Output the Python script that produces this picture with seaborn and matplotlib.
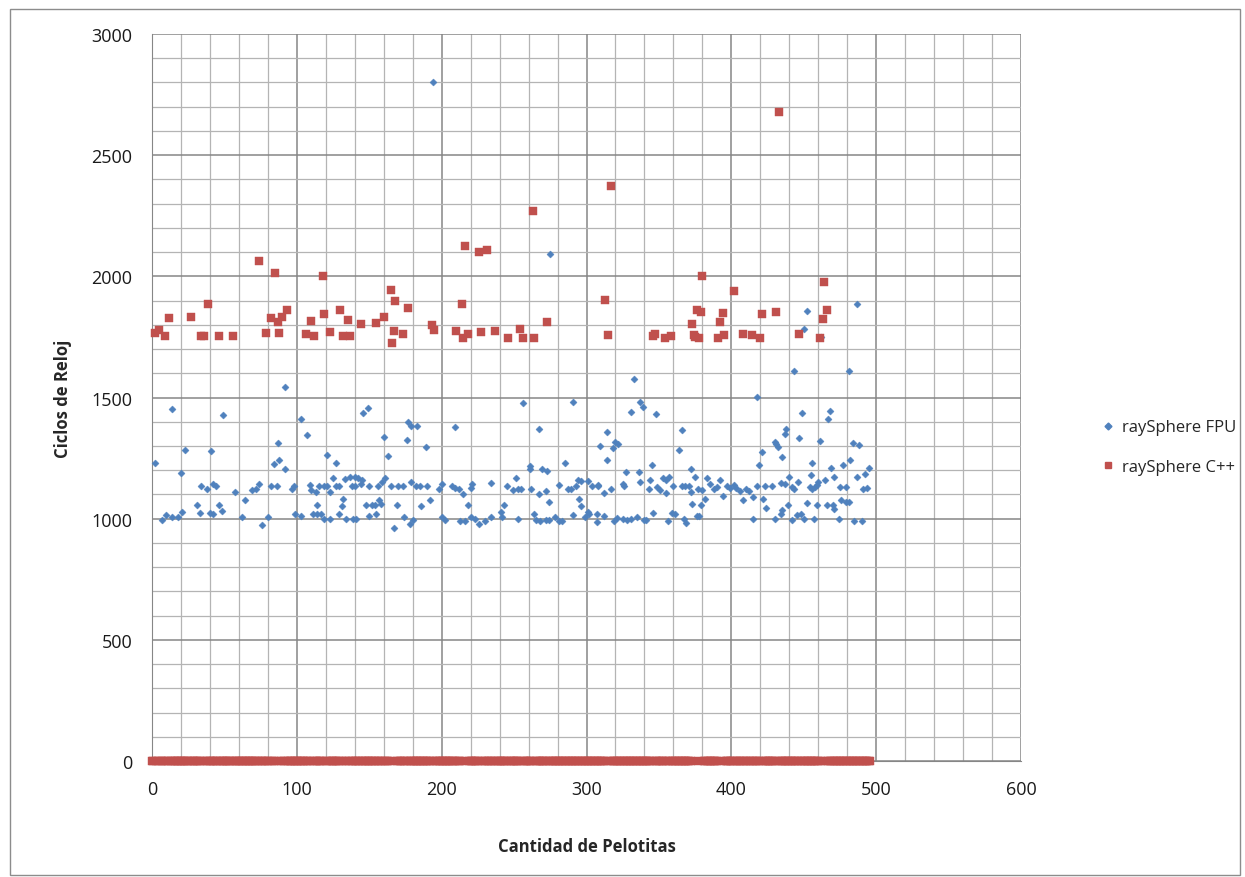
import numpy as np
import pandas as pd
import matplotlib
matplotlib.use("Agg")
import matplotlib.pyplot as plt
from matplotlib.lines import Line2D
from matplotlib.patches import Rectangle
import seaborn as sns

sns.set_style("white")
plt.rcParams['font.family'] = ['Open Sans', 'DejaVu Sans']

# ---------------- data ----------------
fpu_x = [2, 7, 10, 14, 14, 18, 20, 21, 23, 31, 33, 34, 38, 40, 41, 42, 42, 44, 46, 48, 49, 57, 62, 64, 69, 72, 74, 76,
         80, 82, 84, 86, 87, 88, 92, 92, 97, 98, 99, 103, 103, 107, 109, 110, 111, 113, 114, 114, 115, 117, 119, 119,
         121, 121,
         123, 123, 125, 127, 127, 129, 129, 131, 132, 133, 134, 137, 138, 139, 140, 140, 141, 142, 144, 145, 146, 148,
         149, 150, 150, 152, 154, 155, 156, 157, 158, 159, 160, 161, 163, 165, 167, 169, 170, 173, 174, 176, 177, 178,
         179, 179, 180, 182, 183, 185, 186, 189, 190, 192, 194, 198, 200, 200, 202, 207, 209, 209, 212, 213, 215, 216,
         218, 220, 220, 221, 223, 226, 230, 234, 234, 241, 242, 243, 245,
         249, 251, 253, 253, 255, 256, 261, 261, 262, 264, 265, 267, 267, 268, 269, 272, 272, 273, 274, 274, 275, 278,
         281, 281, 283, 285, 287, 289, 291, 291, 293, 294, 295, 296, 296, 299, 301, 301, 302, 304, 307, 307, 308, 308,
         309, 312, 312, 314, 314, 317, 318, 319, 320, 321, 322, 325, 325, 326, 327, 328, 331, 331, 333, 335, 336, 337,
         337, 339, 340, 341, 343, 344, 345, 346, 348, 349, 351, 353, 355, 355, 356, 357, 359, 360, 361, 364, 366, 366,
         367, 368, 369, 371, 372, 372, 373, 376,
         375, 377, 378, 379, 380, 382, 383, 385, 388, 390, 392, 394, 397, 399, 402, 403, 406, 408, 410, 412, 415, 415,
         418, 418, 419, 421, 422, 423, 424, 428, 430, 430, 431, 432, 434, 434, 435, 435, 437, 437, 438, 439, 440, 442,
         442, 443, 443, 445, 446, 447, 448, 449, 450, 450, 452, 452, 454, 455, 456, 456, 457, 458, 459, 459, 460, 461,
         462, 465, 466, 467, 468, 469, 470, 471, 471, 474, 475, 476, 477, 479, 479, 481, 481, 482, 484, 485, 487, 487,
         488, 490, 491, 492, 494, 495]
fpu_y = [1228, 996, 1014, 1454, 1007, 1007, 1189, 1028, 1283, 1058, 1023, 1135, 1123, 1023, 1279, 1018, 1142, 1134,
         1058, 1032, 1428, 1110, 1007, 1076, 1120, 1124, 1141, 972, 1007, 1135, 1225, 1135, 1313, 1244, 1203, 1545,
         1124, 1134, 1018, 1011, 1411, 1345, 1138, 1117, 1021, 1110, 1021, 1058, 1134, 1018, 1134, 1000, 1134, 1262,
         1110, 1000, 1168, 1228, 1134, 1134, 1018, 1051, 1083, 1163, 1000, 1170, 1134, 1000, 1172, 1134, 1000, 1166,
         1145, 1159, 1434, 1058, 1458, 1010, 1134, 1058, 1058, 1018, 1134, 1076, 1062, 1152, 1338, 1166, 1259, 1134,
         961, 1058, 1134, 1134, 1007, 1324, 1397, 979, 1152, 1382, 996, 1134, 1382, 1134, 1051, 1297, 1134, 1079, 2800,
         1124, 1141, 1007, 993, 1134, 1128, 1377, 1121, 990, 1100, 990, 1058, 1128, 1007, 1141, 1000, 977, 990, 1148,
         1007, 1028, 1007, 1058, 1134,
         1120, 1168, 1124, 1000, 1124, 1476, 1217, 1204, 1124, 1018, 993, 1370, 1103, 990, 1204, 1114, 993, 1196, 993,
         1069, 2092, 1007, 1138, 990, 990, 1230, 1124, 1124, 1014, 1481, 1134, 1159, 1080, 1154, 1051, 1007, 1154,
         1028, 1018, 1134, 986, 1021, 1138, 1134, 1301, 1106, 1011, 1244, 1359, 1124, 1292, 990, 1317, 1003, 1310,
         1145, 997, 1134, 1193, 995, 1439, 1000, 1575, 1007, 1193, 1481, 1152, 1462, 993, 996, 1124, 1159, 1221,
         1023, 1430, 1131, 1120, 1166, 1159, 1106, 990, 1172, 1023, 1134, 1021, 1283, 1366, 1134, 1000, 1134, 982,
         1134, 1203, 1110, 1059, 1011,
         1170, 1124, 1011, 1058, 1120, 1083, 1166, 1145, 1124, 1131, 1159, 1092, 1134, 1128, 1138, 1128, 1114, 1076,
         1124, 1114, 1090, 1000, 1134, 1503, 1221, 1276, 1083, 1134, 1045, 1134, 1317, 1000, 1308, 1297, 1148, 1021,
         1254, 1037, 1145, 1349, 1368, 1058, 1172, 1131, 996, 1124, 1609, 1014, 1152, 1331, 1021, 1437, 1781, 1000,
         1857, 1065, 1131, 1179, 1228, 1124, 1000, 1131, 1058, 1139, 1152, 1320, 1750, 1159, 1058, 1410, 1446, 1211,
         1058, 1170, 1040, 1000, 1131, 1079, 1221, 1131, 1069, 1069, 1609, 1241, 1313, 990, 1172, 1885, 1303, 990,
         1124, 1183, 1128, 1210]

cpp_x = [2, 5, 9, 12, 27, 34, 36, 39, 46, 56, 74, 79, 82, 85, 87, 88, 90, 93, 106, 110, 112, 118, 119, 123, 130, 132,
         135, 137, 144, 155, 160, 165, 166, 167, 168, 173, 177, 193, 195, 210, 214, 215, 216, 218, 226, 227, 231, 237,
         246, 254, 256, 263, 264, 273, 313, 315, 317, 346, 347, 354, 358, 373, 374, 375, 376, 378, 379, 380, 391, 392,
         394, 395, 402, 408, 414, 420, 421, 431, 433, 447, 461, 463, 464, 466]
cpp_y = [1765, 1778, 1755, 1826, 1833, 1755, 1755, 1887, 1755, 1755, 2065, 1765, 1826, 2012, 1812, 1765, 1833, 1862,
         1762, 1817, 1755, 2000, 1843, 1771, 1861, 1755, 1818, 1755, 1803, 1807, 1833, 1943, 1724, 1775, 1897, 1764,
         1868, 1798, 1779, 1775, 1887, 1745, 2127, 1761, 2099, 1771, 2110, 1775, 1745, 1782, 1745, 2270, 1745, 1810,
         1903, 1759, 2374, 1755, 1763, 1745, 1752, 1803, 1759, 1748, 1862, 1745, 1851, 2000, 1745, 1812, 1847, 1759,
         1941, 1763, 1759, 1745, 1846, 1854, 2680, 1760, 1745, 1823, 1975, 1862]
# C++ is 0 cycles for every other ball count in this range
cpp_zero_range = (0, 496)

series_names = ["raySphere FPU", "raySphere C++"]
x_ticks = [0, 100, 200, 300, 400, 500, 600]
y_ticks = [0, 500, 1000, 1500, 2000, 2500, 3000]
x_label = "Cantidad de Pelotitas"
y_label = "Ciclos de Reloj"

# ---------------- build tables ----------------
zero_x = [v for v in range(cpp_zero_range[0], cpp_zero_range[1] + 1) if v not in set(cpp_x)]
df_fpu = pd.DataFrame({"x": fpu_x, "y": fpu_y})
df_cpp = pd.DataFrame({"x": list(cpp_x) + zero_x, "y": list(cpp_y) + [0] * len(zero_x)})

blue = "#4F81BD"
red = "#C0504D"

fig = plt.figure(figsize=(12.45, 8.78), dpi=100)
fig.patches.append(Rectangle((10 / 1245, 2 / 878), 1230 / 1245, 866 / 878, transform=fig.transFigure,
                             fill=False, edgecolor="#8C8C8C", linewidth=1.0))
ax = fig.add_axes([152 / 1245, 1 - 762 / 878, 869 / 1245, 727 / 878])

sns.scatterplot(data=df_fpu, x="x", y="y", ax=ax, marker="D", s=13, color=blue,
                edgecolor=blue, linewidth=0.3, zorder=3, legend=False, clip_on=False)
sns.scatterplot(data=df_cpp, x="x", y="y", ax=ax, marker="s", s=28, color=red,
                edgecolor=red, linewidth=0.3, zorder=4, legend=False, clip_on=False)

ax.set_xlim(0, 600)
ax.set_ylim(0, 3000)
ax.set_xticks(x_ticks)
ax.set_yticks(y_ticks)
ax.set_xticks(np.arange(0, 601, 20), minor=True)
ax.set_yticks(np.arange(0, 3001, 100), minor=True)
ax.grid(which="major", color="#868686", linewidth=1.1)
ax.grid(which="minor", color="#B4B4B4", linewidth=0.9)
ax.set_axisbelow(True)
for s in ax.spines.values():
    s.set_visible(False)
ax.spines["left"].set_visible(True)
ax.spines["bottom"].set_visible(True)
ax.spines["left"].set_color("#868686")
ax.spines["bottom"].set_color("#868686")
ax.tick_params(which="major", direction="out", length=6, color="#868686", width=1,
               labelsize=13, labelcolor="#1a1a1a", pad=8)
ax.tick_params(which="minor", length=0)
ax.set_xlabel(x_label, fontsize=12, fontweight="bold", labelpad=28)
ax.set_ylabel(y_label, fontsize=12, fontweight="bold", labelpad=14)

handles = [Line2D([], [], marker="D", linestyle="none", color=blue, markersize=3.5),
           Line2D([], [], marker="s", linestyle="none", color=red, markersize=4.5)]
fig.legend(handles, series_names, loc="center left", bbox_to_anchor=(1085 / 1245, 1 - 448 / 878),
           frameon=False, fontsize=12, labelspacing=1.4, handletextpad=0.3, handlelength=1.0)

fig.savefig("out.png", dpi=100)
